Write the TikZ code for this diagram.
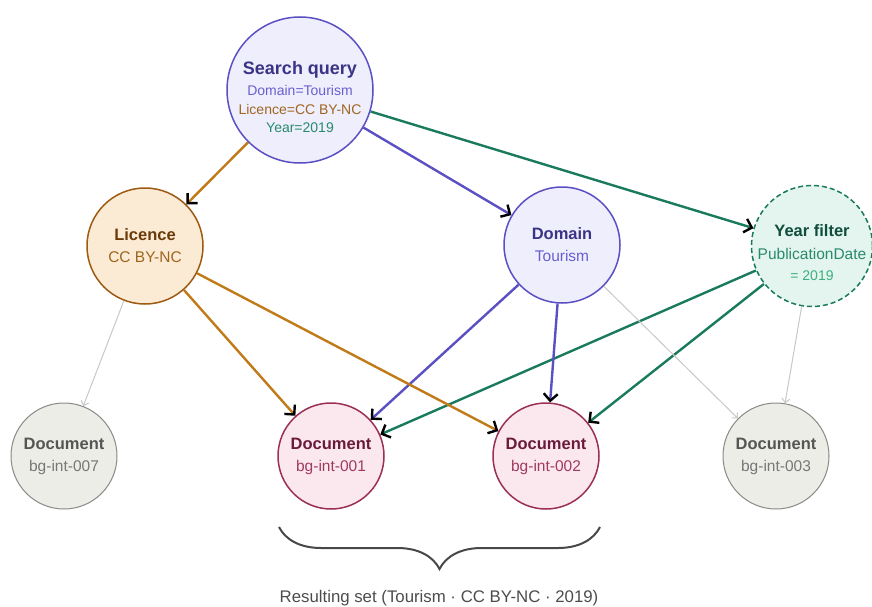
\documentclass[tikz,border=0pt]{standalone}
\usepackage{fontspec}
\setmainfont{Liberation Sans}
\usetikzlibrary{arrows.meta,decorations.pathreplacing}
\definecolor{qryInk}{HTML}{3B3486}
\definecolor{qryLine}{HTML}{5B4FC4}
\definecolor{qryFill}{HTML}{EEEEFC}
\definecolor{qryText}{HTML}{6A5FD0}
\definecolor{licInk}{HTML}{6B3A0A}
\definecolor{licLine}{HTML}{9C5A12}
\definecolor{licFill}{HTML}{FBEBD5}
\definecolor{licText}{HTML}{A0651F}
\definecolor{licEdge}{HTML}{C07A18}
\definecolor{yrInk}{HTML}{0F4D3C}
\definecolor{yrLine}{HTML}{1A7A5E}
\definecolor{yrFill}{HTML}{E3F5EE}
\definecolor{yrText}{HTML}{2A8A6E}
\definecolor{yrLight}{HTML}{3CB080}
\definecolor{hitInk}{HTML}{6A1A3A}
\definecolor{hitLine}{HTML}{9B2F55}
\definecolor{hitFill}{HTML}{FBE8EE}
\definecolor{hitText}{HTML}{A03A60}
\definecolor{missInk}{HTML}{555555}
\definecolor{missLine}{HTML}{8A8A85}
\definecolor{missFill}{HTML}{EDEDE8}
\definecolor{missText}{HTML}{777777}
\definecolor{faint}{HTML}{C8C8C8}
\newcommand{\hd}[2]{{\fontsize{16.5}{18}\selectfont\bfseries\color{#1}#2}}
\newcommand{\sub}[2]{{\color{#1}#2}}
\tikzset{
    x=1pt, y=-1pt,
    hub/.style={circle, line width=1.5pt, align=center, inner sep=-14pt, font=\fontsize{15.5}{21}\selectfont},
    query/.style={hub, draw=qryLine, fill=qryFill, minimum size=146pt, font=\fontsize{14}{18.5}\selectfont},
    facet/.style={hub, draw=licLine, fill=licFill, minimum size=116pt},
    topic/.style={hub, draw=qryLine, fill=qryFill, minimum size=116pt},
    yearf/.style={hub, draw=yrLine, fill=yrFill, minimum size=121pt, dash pattern=on 5pt off 3pt},
    hit/.style={hub, draw=hitLine, fill=hitFill, minimum size=106pt},
    miss/.style={hub, draw=missLine, fill=missFill, minimum size=106pt, line width=1pt},
    tip/.style={-{Straight Barb[color=black, length=7pt, width=14pt]}},
    licarrow/.style={tip, line width=2.4pt, draw=licEdge},
    domarrow/.style={tip, line width=2.4pt, draw=qryLine},
    yrarrow/.style={tip, line width=2.4pt, draw=yrLine},
    faintarrow/.style={-{Straight Barb[length=4pt, width=8pt]}, line width=1pt, draw=faint}
}
\begin{document}
\begin{tikzpicture}
\useasboundingbox (0,0) rectangle (872,607);
% filters
\node[query] (query) at (300,90) {\rule{0pt}{27pt}{\fontsize{18}{20}\selectfont\bfseries\color{qryInk}Search query}\\[3pt]\sub{qryText}{Domain=Tourism}\\\sub{licText}{Licence=CC BY-NC}\\\sub{yrText}{Year=2019}};
\node[facet] (licence) at (145,246) {\hd{licInk}{Licence}\\[1pt]\sub{licText}{CC BY-NC}};
\node[topic] (domain) at (562,245) {\hd{qryInk}{Domain}\\[1pt]\sub{qryText}{Tourism}};
\node[yearf] (year) at (812,246) {\rule{0pt}{26pt}\hd{yrInk}{Year filter}\\[2pt]\sub{yrText}{PublicationDate}\\{\fontsize{14}{16}\selectfont\color{yrLight}= 2019}};
% documents
\node[miss] (doc007) at (64,456) {\hd{missInk}{Document}\\[1pt]\sub{missText}{bg-int-007}};
\node[hit] (doc001) at (331,456) {\hd{hitInk}{Document}\\[1pt]\sub{hitText}{bg-int-001}};
\node[hit] (doc002) at (546,456) {\hd{hitInk}{Document}\\[1pt]\sub{hitText}{bg-int-002}};
\node[miss] (doc003) at (776,456) {\hd{missInk}{Document}\\[1pt]\sub{missText}{bg-int-003}};
% connectors
\draw[licarrow] (query) -- (licence);
\draw[domarrow] (query) -- (domain);
\draw[yrarrow] (query) -- (year);
\foreach \d in {doc001,doc002}{
  \draw[licarrow] (licence) -- (\d);
  \draw[domarrow] (domain) -- (\d);
  \draw[yrarrow] (year) -- (\d);
}
\draw[faintarrow] (licence) -- (doc007);
\draw[faintarrow] (domain) -- (doc003);
\draw[faintarrow] (year) -- (doc003);
% resulting set
\coordinate (setL) at (279,527);
\coordinate (setR) at (600,527);
\draw[decorate, decoration={brace, mirror, amplitude=42pt}, line width=2pt, draw=missInk!85!black] (setL) -- (setR);
\node[font=\fontsize{16.8}{19}\selectfont, text=missInk!90!black] (setlabel) at (439,598) {Resulting set (Tourism · CC BY-NC · 2019)};
\end{tikzpicture}
\end{document}
